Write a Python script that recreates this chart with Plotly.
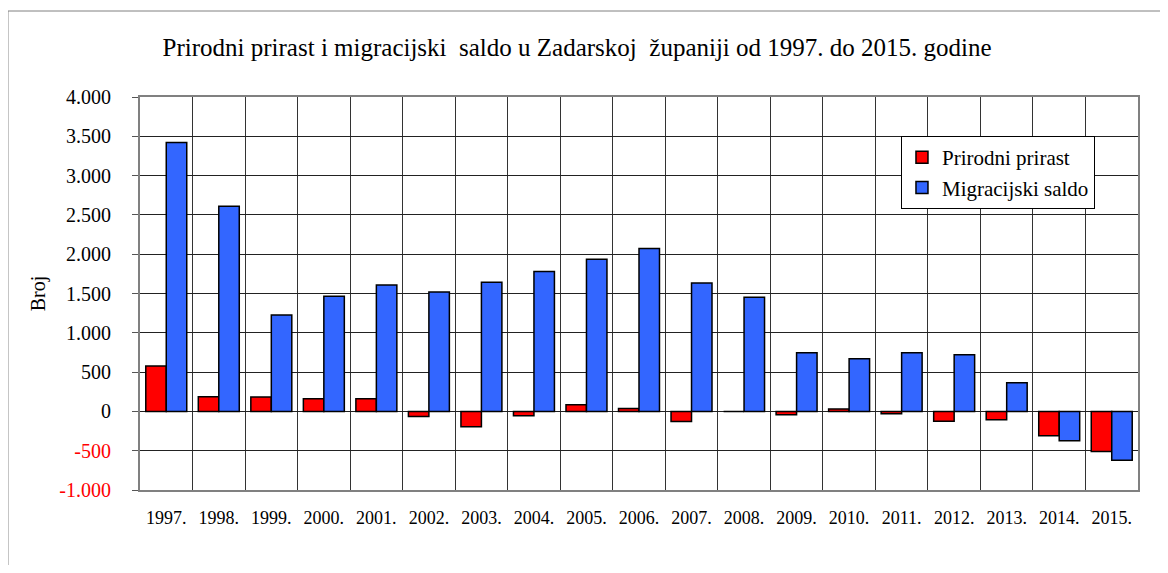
import plotly.graph_objects as go

#################### Data ####################
godine = ["1997.", "1998.", "1999.", "2000.", "2001.", "2002.", "2003.", "2004.", "2005.", "2006.",
          "2007.", "2008.", "2009.", "2010.", "2011.", "2012.", "2013.", "2014.", "2015."]
prirodni_prirast = [577, 185, 183, 162, 161, -64, -196, -55, 85, 38,
                    -128, 0, -42, 30, -30, -125, -106, -310, -510]
migracijski_saldo = [3420, 2610, 1227, 1465, 1609, 1520, 1643, 1779, 1936, 2072,
                     1634, 1452, 747, 671, 747, 722, 365, -374, -621]

y_tickvals = [4000, 3500, 3000, 2500, 2000, 1500, 1000, 500, 0, -500, -1000]
y_ticktext = ["4.000", "3.500", "3.000", "2.500", "2.000", "1.500", "1.000", "500", "0",
              "<span style='color:#ff0000'>-500</span>",
              "<span style='color:#ff0000'>-1.000</span>"]

FONT = "Liberation Serif, Times New Roman, serif"

#################### Figure ####################
# page body has an 8px margin, so the figure is 16px smaller than the window
fig = go.Figure()
fig.add_trace(go.Bar(
    x=godine, y=prirodni_prirast, name="Prirodni prirast",
    marker=dict(color="#ff0000", line=dict(color="black", width=1.5)),
))
fig.add_trace(go.Bar(
    x=godine, y=migracijski_saldo, name="Migracijski saldo",
    marker=dict(color="#3366ff", line=dict(color="black", width=1.5)),
))

fig.update_layout(
    width=1152,
    height=557,
    margin=dict(l=132, r=22, t=89, b=75),
    paper_bgcolor="white",
    plot_bgcolor="white",
    barmode="group",
    bargap=0.22,
    bargroupgap=0,
    font=dict(family=FONT, color="black"),
    title=dict(
        text="Prirodni prirast i migracijski  saldo u Zadarskoj  županiji od 1997. do 2015. godine",
        font=dict(family=FONT, size=25, color="black"),
        xref="container", x=0.494, xanchor="center",
        yref="container", y=0.93, yanchor="middle",
    ),
    legend=dict(
        x=0.7625, y=0.9008, xanchor="left", yanchor="top",
        bgcolor="white", bordercolor="black", borderwidth=1,
        font=dict(family=FONT, size=21, color="black"),
        traceorder="normal",
        itemwidth=30,
    ),
    showlegend=True,
)

fig.update_xaxes(
    type="category",
    tickson="boundaries",
    showgrid=True, gridcolor="#333333", gridwidth=1,
    showline=True, linecolor="#808080", linewidth=2, mirror=True,
    ticks="",
    ticklabelstandoff=10,
    tickfont=dict(family=FONT, size=18, color="black"),
    automargin=False,
)
fig.update_yaxes(
    range=[-1000, 4000],
    tickvals=y_tickvals, ticktext=y_ticktext,
    showgrid=True, gridcolor="#222222", gridwidth=1,
    zeroline=False,
    showline=True, linecolor="#808080", linewidth=2, mirror=True,
    ticks="outside", ticklen=6, tickcolor="#555555",
    ticklabelstandoff=17,
    tickfont=dict(family=FONT, size=20, color="black"),
    title=dict(text="Broj", font=dict(family=FONT, size=20, color="black"), standoff=8),
    automargin=False,
)

# outer frame of the chart area
fig.add_shape(type="rect", xref="paper", yref="paper",
              x0=-0.1323, x1=1.05, y0=-0.3, y1=1.2188,
              line=dict(color="#808080", width=1), layer="below")

fig.write_html("out.html")
